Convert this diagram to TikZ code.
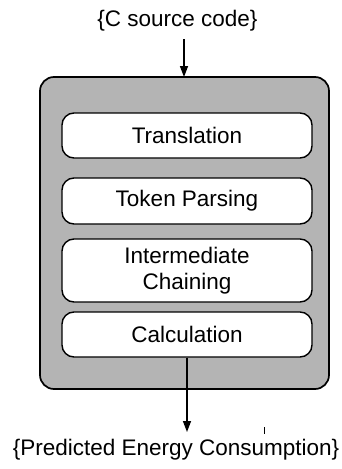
\documentclass[tikz,border=0pt]{standalone}
\usepackage{fontspec}
\setmainfont{Liberation Sans}
\usetikzlibrary{arrows.meta}
\definecolor{boxgray}{RGB}{180,180,180}
\begin{document}
\begin{tikzpicture}[x=1pt,y=-1pt,
  outerbox/.style={draw=black,line width=1.7pt,fill=boxgray,rounded corners=14pt},
  stagebox/.style={draw=black,line width=1.4pt,fill=white,rounded corners=12pt,
    minimum width=250pt,inner sep=0pt,align=center,font=\fontsize{22.5}{26}\selectfont},
  label/.style={inner sep=0pt,font=\fontsize{22.5}{26}\selectfont},
  flow/.style={line width=1.4pt,-{Triangle[length=11pt,width=8pt]}}]
\useasboundingbox (0,0) rectangle (342,469);
\node[outerbox,minimum width=289pt,minimum height=312pt] (outer) at (184.5,233) {};
\node[stagebox,minimum height=45pt] (trans) at (187,135.5) {Translation};
\node[stagebox,minimum height=46pt] (token) at (187,201) {Token Parsing};
\node[stagebox,minimum height=63pt] (inter) at (187,270.5) {Intermediate\\Chaining};
\node[stagebox,minimum height=45pt] (calc) at (187,334.5) {Calculation};
\node[label] (src) at (177.5,21) {\{C source code\}};
\node[label] (out) at (176,450) {\{Predicted Energy Consumption\}};
\coordinate (srcend) at (184,39);
\coordinate (outin) at (184,77);
\coordinate (outend) at (187,432);
\draw[flow] (srcend) -- (outin);
\draw[flow] (calc.south -| outend) -- (outend);
\coordinate (ticka) at (264,427);
\coordinate (tickb) at (264,434);
\draw[line width=1pt] (ticka) -- (tickb);
\end{tikzpicture}
\end{document}
